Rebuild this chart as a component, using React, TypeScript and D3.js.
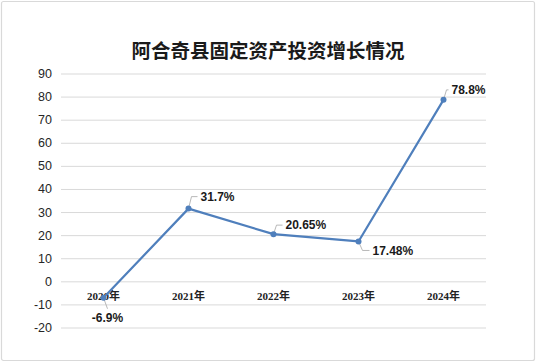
import React from 'react';
import * as d3 from 'd3';

const title = '阿合奇县固定资产投资增长情况';
const years = ['2020年', '2021年', '2022年', '2023年', '2024年'];
const growth = [-6.9, 31.7, 20.65, 17.48, 78.8];
const growthLabels = ['-6.9%', '31.7%', '20.65%', '17.48%', '78.8%'];
const yTicks = [90, 80, 70, 60, 50, 40, 30, 20, 10, 0, -10, -20];

// where each data label sits relative to its point (dx, dy) and leader direction
const labelPlace = [
  { dx: 4, dy: 20, anchor: 'middle', leader: 'down' },
  { dx: 12, dy: -12, anchor: 'start', leader: 'up' },
  { dx: 12, dy: -9, anchor: 'start', leader: 'up' },
  { dx: 14, dy: 10, anchor: 'start', leader: 'down' },
  { dx: 8, dy: -10, anchor: 'start', leader: 'up' },
];

const W = 536;
const H = 363;
const margin = { top: 74, right: 50, bottom: 35, left: 61 };

const App = () => {
  const x = d3.scaleBand().domain(years).range([margin.left, W - margin.right]);
  const y = d3.scaleLinear().domain([-20, 90]).range([H - margin.bottom, margin.top]);
  const cx = (d: string) => (x(d) as number) + x.bandwidth() / 2;

  const line = d3
    .line<number>()
    .x((_, i) => cx(years[i]))
    .y((d) => y(d));

  return (
    <svg
      width={W}
      height={H}
      style={{ position: 'absolute', left: 0, top: 0, background: '#fff' }}
    >
      <rect x={1.5} y={1.5} width={W - 3} height={H - 4} rx={2} fill="#fff" stroke="#d9d9d9" strokeWidth={1.2} />
      <text
        x={W / 2}
        y={49}
        textAnchor="middle"
        dominantBaseline="central"
        fontFamily="'Noto Sans CJK SC', sans-serif"
        fontWeight="bold"
        fontSize={19.5}
        fill="#1a1a1a"
      >
        {title}
      </text>

      {yTicks.map((t) => (
        <g key={t}>
          <line x1={margin.left} x2={W - margin.right} y1={y(t)} y2={y(t)} stroke="#d9d9d9" strokeWidth={1} />
          <text
            x={52}
            y={y(t)}
            textAnchor="end"
            dominantBaseline="central"
            fontFamily="'Liberation Sans', sans-serif"
            fontSize={12.5}
            fill="#262626"
          >
            {t}
          </text>
        </g>
      ))}

      {years.map((yr) => (
        <text
          key={yr}
          x={cx(yr)}
          y={y(0) + 14}
          textAnchor="middle"
          dominantBaseline="central"
          fontFamily="'Liberation Serif', 'Noto Sans CJK SC', serif"
          fontWeight="bold"
          fontSize={11}
          fill="#222"
        >
          {yr}
        </text>
      ))}

      <path d={line(growth) as string} fill="none" stroke="#4f7fbc" strokeWidth={2.2} strokeLinejoin="round" />

      {growth.map((v, i) => {
        const px = cx(years[i]);
        const py = y(v);
        const p = labelPlace[i];
        const lx = px + p.dx;
        const ly = py + p.dy;
        let leader: string;
        if (p.leader === 'down' && p.anchor === 'middle') {
          leader = `M${px},${py} L${px + 4},${ly - 9}`;
        } else if (p.leader === 'down') {
          leader = `M${px},${py} L${px + 4},${ly - 1} L${lx - 3},${ly - 1}`;
        } else {
          leader = `M${px},${py} L${px + 3},${ly} L${lx - 3},${ly}`;
        }
        return (
          <g key={i}>
            <path d={leader} fill="none" stroke="#a6a6a6" strokeWidth={0.8} />
            <circle cx={px} cy={py} r={3} fill="#4f7fbc" />
            <text
              x={lx}
              y={ly}
              textAnchor={p.anchor}
              dominantBaseline="central"
              fontFamily="'Liberation Sans', sans-serif"
              fontWeight="bold"
              fontSize={12}
              fill="#1a1a1a"
            >
              {growthLabels[i]}
            </text>
          </g>
        );
      })}
    </svg>
  );
};

export default App;
